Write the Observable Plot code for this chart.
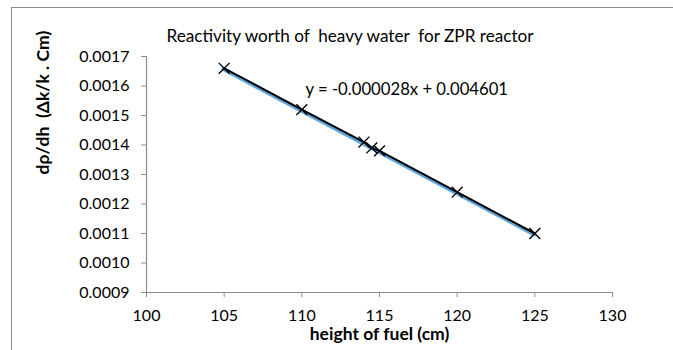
<!DOCTYPE html>
<html>
<head>
<meta charset="utf-8">
<script src="https://cdn.jsdelivr.net/npm/d3@7"></script>
<script src="https://cdn.jsdelivr.net/npm/@observablehq/plot@0.6"></script>
<style>
  html, body { margin: 0; padding: 0; background: #fff; }
  #wrap { position: relative; width: 673px; height: 350px; overflow: hidden; }
  #border { position: absolute; left: 11px; top: 7px; width: 700px; height: 400px;
            border-top: 1px solid #8c8c8c; border-left: 1px solid #8c8c8c; pointer-events: none; }
</style>
</head>
<body>
<div id="wrap"><div id="border"></div></div>
<script>
// Data
const heights = [105, 110, 114, 114.5, 115, 120, 125];
const worth = [0.00166, 0.00152, 0.00141, 0.00139, 0.00138, 0.00124, 0.00110];
const xTicks = [100, 105, 110, 115, 120, 125, 130];
const yTicks = [0.0009, 0.0010, 0.0011, 0.0012, 0.0013, 0.0014, 0.0015, 0.0016, 0.0017];
const trendSlope = [-0.000028];
const trendIntercept = [0.004601];
const titleText = ["Reactivity worth of  heavy water  for ZPR reactor"];
const xLabel = ["height of fuel (cm)"];
const yLabel = ["dρ/dh  (Δk/k . Cm)"];

const data = heights.map((h, i) => ({h, w: worth[i]}));
const eqText = `y = ${d3.format(".6f")(trendSlope[0]).replace("−", "-")}x + ${d3.format(".6f")(trendIntercept[0])}`;

const fontFamily = "Lato, 'Open Sans', sans-serif";
const axisGray = "#8c8c8c";

// choose font sizes so that text widths match the reference
const ctx = document.createElement("canvas").getContext("2d");
function fit(text, weight, target) {
  ctx.font = `${weight} 100px Lato`;
  const w = ctx.measureText(text.replace(/ {2}/g, "  ")).width;
  return Math.max(10, Math.min(22, 100 * target / w));
}
const titleSize = fit(titleText[0], "normal", 370);
const eqSize = fit(eqText, "normal", 203);
const axisTitleSize = fit(xLabel[0], "bold", 140);

const chart = Plot.plot({
  width: 673,
  height: 350,
  marginLeft: 146,
  marginRight: 61,
  marginTop: 56,
  marginBottom: 58,
  style: {fontFamily, fontSize: "16px", color: "#000", background: "transparent"},
  x: {domain: [100, 130], ticks: xTicks, label: null},
  y: {domain: [0.0009, 0.0017], ticks: yTicks, label: null},
  marks: [
    Plot.axisX({ticks: xTicks, tickSize: 5, tickPadding: 12, stroke: axisGray, tickFormat: d3.format("d"), fill: "#000", fontSize: 16}),
    Plot.axisY({ticks: yTicks, tickSize: 5, tickPadding: 12, stroke: axisGray, tickFormat: d3.format(".4f"), fill: "#000", fontSize: 16}),
    Plot.ruleX([100], {stroke: axisGray, strokeWidth: 1.2}),
    Plot.ruleY([0.0009], {stroke: axisGray, strokeWidth: 1.2}),
    Plot.linearRegressionY(data, {x: "h", y: "w", stroke: "#5ea6de", strokeWidth: 4, ci: 0, dx: -0.6, dy: 0.8}),
    Plot.line(data, {x: "h", y: "w", stroke: "#000", strokeWidth: 2}),
    Plot.dot(data, {x: "h", y: "w", symbol: "times", r: 5, stroke: "#000", strokeWidth: 1.4}),
    Plot.text(titleText, {frameAnchor: "top-left", dx: 20, dy: -15, lineAnchor: "bottom", text: d => d, textAnchor: "start", fontSize: titleSize, fill: "#000"}),
    Plot.text([eqText], {frameAnchor: "top-left", dx: 159, dy: 27, text: d => d, textAnchor: "start", fontSize: eqSize, fill: "#000"}),
    Plot.text(xLabel, {frameAnchor: "bottom", dy: 47, text: d => d, fontWeight: "bold", fontSize: axisTitleSize, fill: "#000"}),
    Plot.text(yLabel, {frameAnchor: "left", dx: -103, rotate: -90, text: d => d, fontWeight: "bold", fontSize: axisTitleSize, fill: "#000"})
  ]
});
document.getElementById("wrap").prepend(chart);
</script>
</body>
</html>
